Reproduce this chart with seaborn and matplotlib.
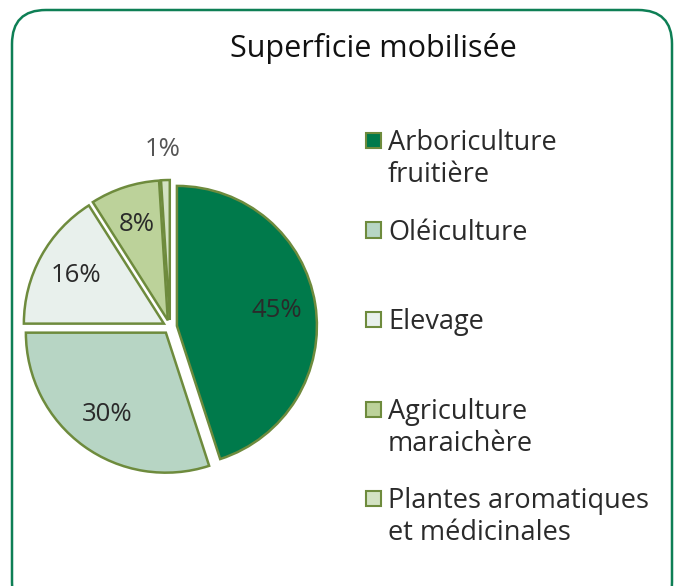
import matplotlib.pyplot as plt
import seaborn as sns
from matplotlib.patches import FancyBboxPatch, Rectangle

sns.set_theme(style="white")
plt.rcParams['font.family'] = ['Open Sans', 'DejaVu Sans']

# data
categories = ["Arboriculture\nfruitière", "Oléiculture", "Elevage",
              "Agriculture\nmaraichère", "Plantes aromatiques\net médicinales"]
shares = [45, 30, 16, 8, 1]
colors = ["#007A4B", "#B7D5C4", "#E8F0EC", "#BCD29A", "#D3E2C3"]
edge = "#6E8B3D"
txt = "#2a2a2a"

fig = plt.figure(figsize=(6.78, 5.86), dpi=100)

# rounded frame, bottom edge runs off the picture
box = FancyBboxPatch((12/678, -30/586), 660/678, 606/586,
                     boxstyle="round,pad=0,rounding_size=0.05",
                     transform=fig.transFigure, fill=False,
                     edgecolor="#0E7F55", linewidth=1.8, mutation_aspect=678/586)
fig.patches.append(box)

fig.text(373/678, 1 - 48/586, "Superficie mobilisée", ha="center", va="center",
         fontsize=22, color="#111111")

ax = fig.add_axes([2/678, 91/586, 336/678, 336/586])
wedges, texts, autotexts = ax.pie(
    shares, colors=colors, startangle=90, counterclock=False,
    explode=[0.05] * len(shares), autopct="%d%%", pctdistance=0.72,
    wedgeprops=dict(edgecolor=edge, linewidth=1.8),
    textprops=dict(color=txt, fontsize=18.5))
# small slice label sits outside
autotexts[-1].set_position((-0.05, 1.27))
autotexts[-1].set_color("#555555")
ax.set_xlim(-1.2, 1.2)
ax.set_ylim(-1.2, 1.2)
ax.set_aspect("equal")
ax.axis("off")

# legend drawn by hand
y0 = 140
for i, (lab, col) in enumerate(zip(categories, colors)):
    y = y0 + i * 89.5
    fig.patches.append(Rectangle((366/678, 1 - (y + 8)/586), 15/678, 15/586,
                                 transform=fig.transFigure, facecolor=col,
                                 edgecolor=edge, linewidth=1.5))
    fig.text(388/678, 1 - (y - 11)/586, lab, ha="left", va="top",
             fontsize=19.5, color=txt, linespacing=1.2)

fig.savefig("out.png", dpi=100)
